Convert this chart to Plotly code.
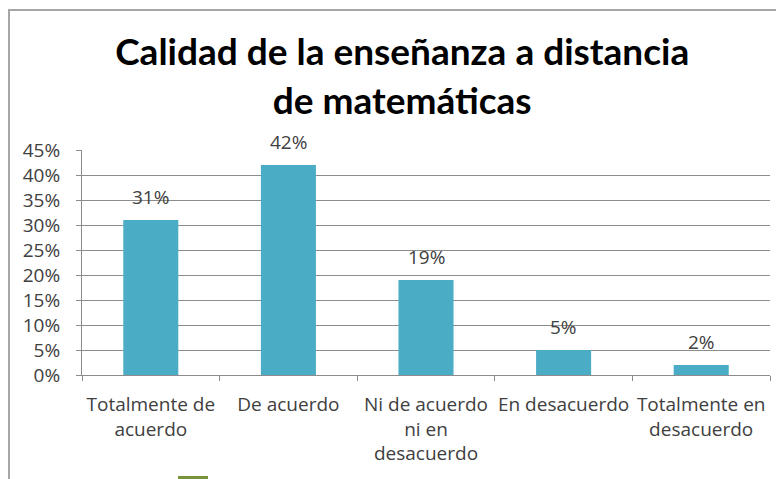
import plotly.graph_objects as go

categories = ["Totalmente de<br>acuerdo", "De acuerdo", "Ni de acuerdo<br>ni en<br>desacuerdo",
              "En desacuerdo", "Totalmente en<br>desacuerdo"]
values = [31, 42, 19, 5, 2]
value_labels = ["31%", "42%", "19%", "5%", "2%"]
title_text = "Calidad de la enseñanza a distancia<br>de matemáticas"
y_tickvals = [0, 5, 10, 15, 20, 25, 30, 35, 40, 45]
y_ticktext = ["0%", "5%", "10%", "15%", "20%", "25%", "30%", "35%", "40%", "45%"]

FONT = "Open Sans"
TFONT = "Lato"
TXT = "#404040"
GRID = "#8c8c8c"
W, H = 776, 471
L, R, T, B = 74, 14, 142, 104
PW, PH = W - L - R, H - T - B

fig = go.Figure(go.Bar(
    x=categories, y=values,
    marker=dict(color="#4BACC6", line=dict(width=0)),
))

for c, v, lab in zip(categories, values, value_labels):
    fig.add_annotation(x=c, y=v, text=lab, showarrow=False, yanchor="bottom",
                       yshift=8, font=dict(family=FONT, size=19, color=TXT))

fig.update_layout(
    width=W, height=H,
    margin=dict(l=L, r=R, t=T, b=B, autoexpand=False),
    paper_bgcolor="white", plot_bgcolor="white",
    bargap=0.6,
    showlegend=False,
    title=dict(text=title_text, x=0.508, xanchor="center", y=0.878, yanchor="top",
               font=dict(family=TFONT, size=37, color="black", weight="bold")),
    font=dict(family=FONT, size=19, color=TXT),
    xaxis=dict(showline=True, linecolor=GRID, linewidth=1, ticks="outside",
               tickson="boundaries", ticklen=5, tickcolor=GRID, showgrid=False,
               ticklabelstandoff=12,
               tickfont=dict(family=FONT, size=19, color=TXT), tickangle=0),
    yaxis=dict(range=[0, 45], tickvals=y_tickvals, ticktext=y_ticktext,
               showgrid=True, gridcolor=GRID, gridwidth=1,
               showline=True, linecolor=GRID, linewidth=1,
               ticks="outside", ticklen=5, tickcolor=GRID, ticklabelstandoff=12,
               tickfont=dict(family=FONT, size=19, color=TXT), zeroline=False),
    shapes=[
        dict(type="line", xref="paper", yref="paper", x0=-L/PW, x1=1 + R/PW,
             y0=1 + (T - 2)/PH, y1=1 + (T - 2)/PH, line=dict(color="#a6a6a6", width=2)),
        dict(type="line", xref="paper", yref="paper", x0=-(L - 1)/PW, x1=-(L - 1)/PW,
             y0=1 + (T - 2)/PH, y1=-B/PH, line=dict(color="#a6a6a6", width=2)),
        dict(type="rect", xref="paper", yref="paper", x0=(170 - L)/PW, x1=(200 - L)/PW,
             y0=-B/PH, y1=-(B - 3)/PH, fillcolor="#77933C", line=dict(width=0)),
    ],
)

fig.write_html("out.html")
